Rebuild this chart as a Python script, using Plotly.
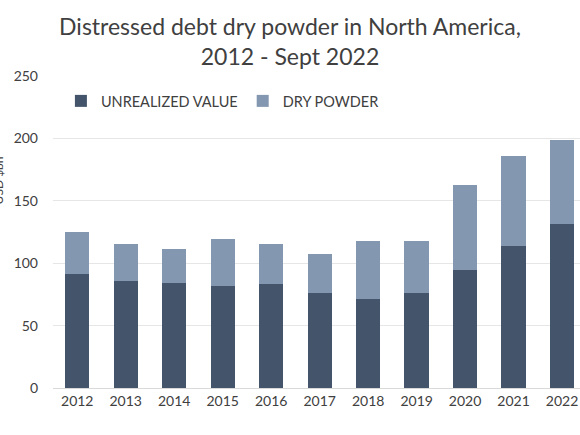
import plotly.graph_objects as go

# values (USD bn)
years = ["2012", "2013", "2014", "2015", "2016", "2017",
         "2018", "2019", "2020", "2021", "2022"]
unrealized_value = [91, 86, 84.5, 82, 83, 76.5, 71, 76.5, 94.5, 114, 131.5]
dry_powder = [34, 29, 26.5, 37.5, 32.5, 30.5, 47, 41.5, 68, 72, 67.5]

DARK = "#44546A"
LIGHT = "#8497B0"
FONT = "Lato, 'Open Sans', sans-serif"

fig = go.Figure()
fig.add_trace(go.Bar(x=years, y=unrealized_value, name="UNREALIZED VALUE",
                     marker=dict(color=DARK, line=dict(width=0))))
fig.add_trace(go.Bar(x=years, y=dry_powder, name="DRY POWDER",
                     marker=dict(color=LIGHT, line=dict(width=0))))

fig.update_layout(
    width=580,
    height=435,
    barmode="stack",
    bargap=0.5,
    plot_bgcolor="white",
    paper_bgcolor="white",
    font=dict(family=FONT, size=14, color="#404040"),
    margin=dict(l=53, r=0, t=76, b=47),
    title=dict(
        text="Distressed debt dry powder in North America,<br>2012 - Sept 2022",
        x=0.5, xanchor="center", y=0.919, yanchor="middle",
        font=dict(family=FONT, size=23, color="#404040"),
    ),
    legend=dict(
        orientation="h", x=0.015, xanchor="left", y=0.92, yanchor="middle",
        font=dict(size=14.5, color="#404040"), traceorder="normal",
        itemwidth=30, bgcolor="rgba(0,0,0,0)",
    ),
    xaxis=dict(
        range=[-0.5, 10.37], showgrid=False, showline=True,
        linecolor="#D9D9D9", linewidth=1, ticks="",
        tickfont=dict(size=14, color="#404040"),
    ),
    yaxis=dict(
        range=[0, 250], dtick=50, showgrid=True, gridcolor="#E6E6E6",
        gridwidth=1, zeroline=False, showline=False, ticks="",
        tickfont=dict(size=14, color="#404040"), ticklabelstandoff=14,
    ),
    # y-axis title sits mostly off the left edge, as in the reference
    annotations=[dict(
        text="USD $bn", textangle=-90, xref="paper", yref="paper",
        x=-0.104, y=0.666, xanchor="center", yanchor="middle",
        showarrow=False, font=dict(size=12, color="#404040"),
    )],
)

# the page body has a default 8px margin; drop it so the figure sits at 0,0
fig.write_html("out.html", config={"displayModeBar": False},
               post_script="document.body.style.margin='0';")
